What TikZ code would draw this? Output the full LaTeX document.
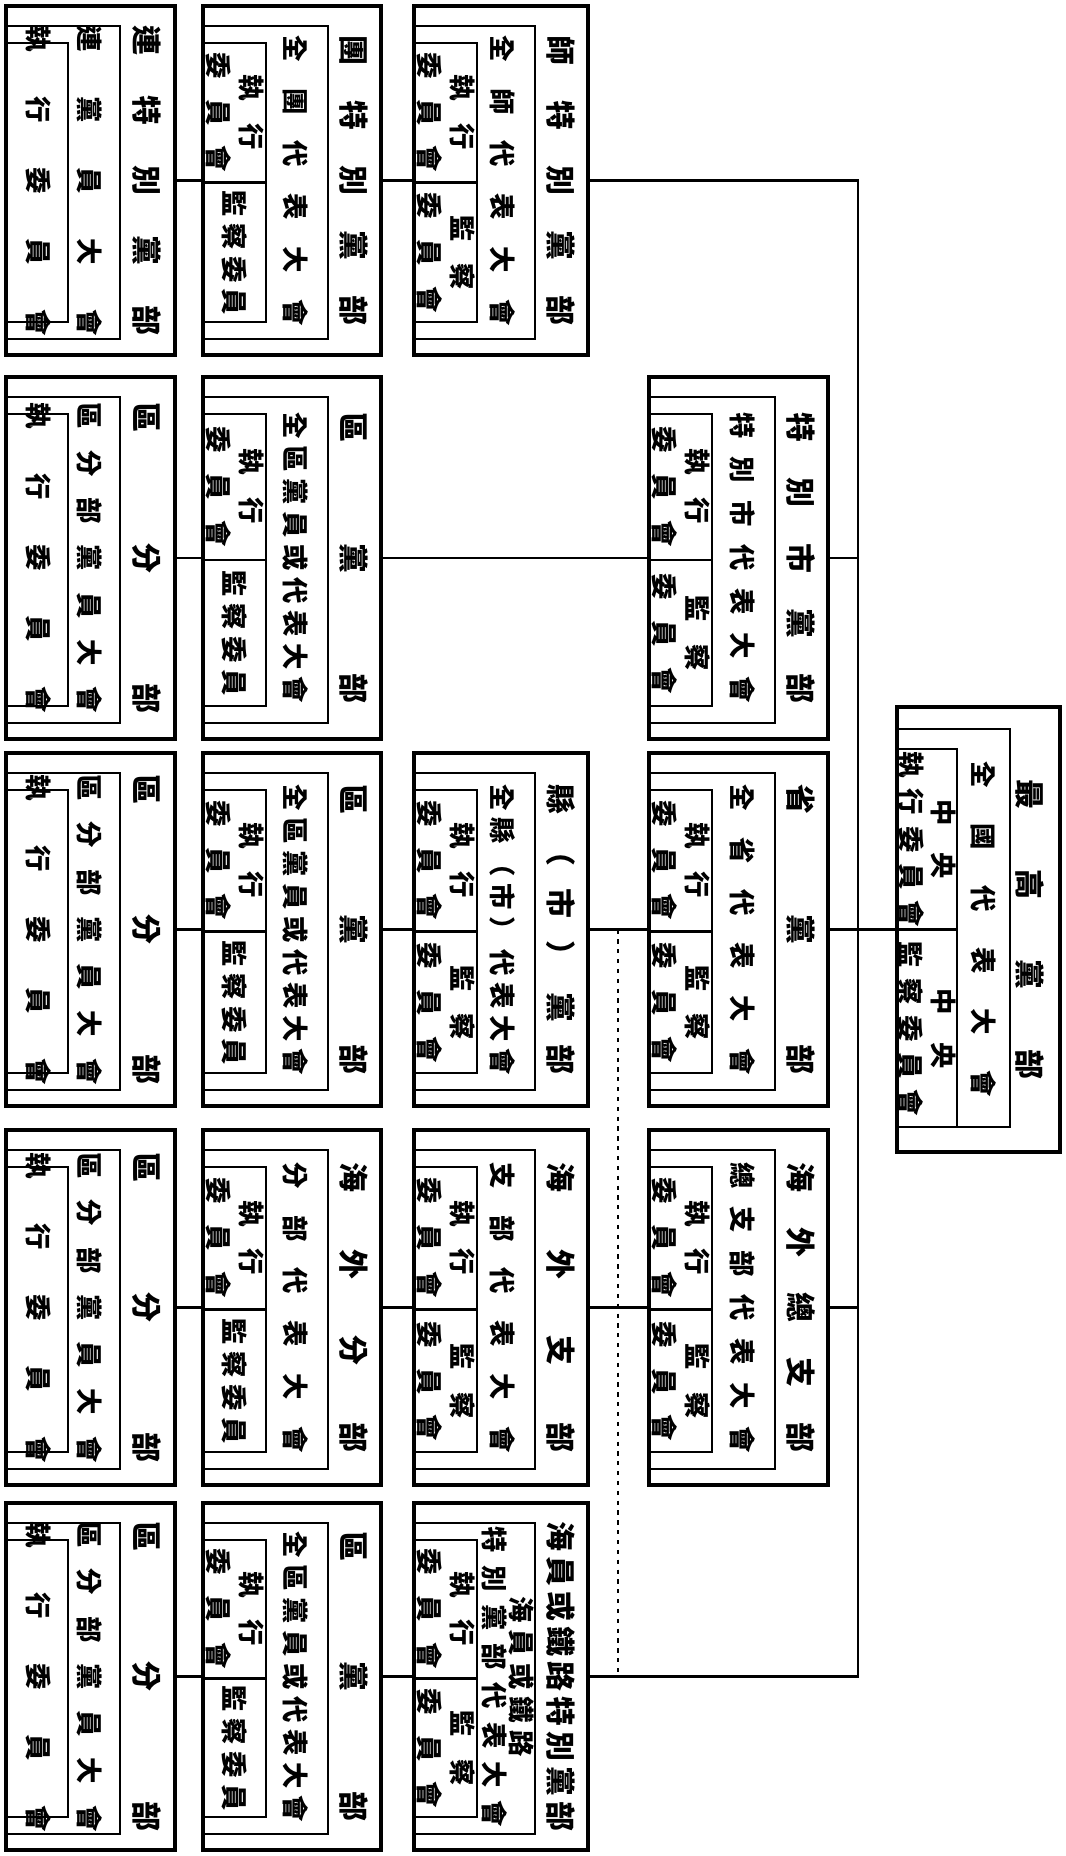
\documentclass[tikz,border=0pt]{standalone}
\usepackage{fontspec}
\setmainfont{Noto Sans CJK TC}
\usetikzlibrary{calc,fit}

\tikzset{
  orgframe/.style={draw, line width=1pt, inner sep=0pt, outer sep=0pt},
  inframe/.style={line width=0.8pt},
  rot/.style={rotate=-90, inner sep=0pt},
  link/.style={line width=0.8pt},
}

% spread characters over a given width
\newcommand{\spr}[2][2.9cm]{\makebox[#1][s]{\spaceskip=0pt plus 1fil\relax #2}}
\newcommand{\ttlfont}{\fontsize{8.5}{10}\selectfont\bfseries}
\newcommand{\asmfont}{\fontsize{7.5}{9}\selectfont\bfseries}
\newcommand{\celfont}{\fontsize{7.5}{9.2}\selectfont\bfseries}
\newcommand{\execcell}{\spr[0.75cm]{執 行}\\\spr[1.2cm]{委 員 會}}
\newcommand{\auditcell}{\spr[0.75cm]{監 察}\\\spr[1.2cm]{委 員 會}}
\newcommand{\auditshort}{\spr[1.25cm]{監 察 委 員}}
\newcommand{\asmoff}{-85}

% party office: name, x0, y0, x1, y1, title, assembly, executive, supervisory
\newcommand{\partybox}[9]{%
  \node[orgframe, fit={(#2,#3) (#4,#5)}] (#1) {};
  \draw[inframe] ($(#1.north west)+(0,20)$) rectangle ($(#1.south east)+(-53,-16)$);
  \draw[inframe] ($(#1.north west)+(0,37)$) rectangle ($(#1.south west)+(63,-33)$);
  \draw[inframe] ($(#1.west)+(0,2)$) -- ++(63,0);
  \node[rot, font=\ttlfont] (#1-t) at ($(#1.east)+(-27,0)$) {#6};
  \node[rot, font=\asmfont, align=center] (#1-a) at ($(#1.east)+(\asmoff,0)$) {#7};
  \node[rot, font=\celfont, align=center] (#1-e) at ($(#1.north west)!0.5!(#1.west)+(32,19)$) {#8};
  \node[rot, font=\celfont, align=center] (#1-s) at ($(#1.west)!0.5!(#1.south west)+(32,-15)$) {#9};
}

% lowest level: name, x0, y0, x1, y1, title, members meeting
\newcommand{\branchbox}[7]{%
  \node[orgframe, fit={(#2,#3) (#4,#5)}] (#1) {};
  \draw[inframe] ($(#1.north west)+(0,20)$) rectangle ($(#1.south east)+(-55,-16)$);
  \draw[inframe] ($(#1.north west)+(0,37)$) rectangle ($(#1.south west)+(62,-33)$);
  \node[rot, font=\ttlfont] (#1-t) at ($(#1.east)+(-28,0)$) {#6};
  \node[rot, font=\asmfont] (#1-a) at ($(#1.east)+(-85,0)$) {#7};
  \node[rot, font=\celfont] (#1-e) at ($(#1.west)+(32,0)$) {\spr[3.1cm]{執 行 委 員 會}};
}

\begin{document}
\begin{tikzpicture}[x=0.01cm, y=-0.01cm]
    \useasboundingbox (0,0) rectangle (1066,1856);

    % Highest level
    \node[orgframe, fit={(897,707) (1060,1152)}] (top) {};
    \draw[inframe] ($(top.north west)+(0,22)$) rectangle ($(top.south east)+(-50,-25)$);
    \draw[inframe] ($(top.north west)+(0,42)$) rectangle ($(top.south west)+(60,-25)$);
    \draw[inframe] (top.west) -- ++(60,0);
    \node[rot, font=\ttlfont] (top-t) at ($(top.east)+(-30,0)$) {\spr[3cm]{最 高 黨 部}};
    \node[rot, font=\asmfont] (top-a) at ($(top.east)+(-76,0)$) {\spr[3.35cm]{全 國 代 表 大 會}};
    \node[rot, font=\celfont, align=center] (top-e) at ($(top.north west)!0.5!(top.west)+(30,21)$) {\spr[0.8cm]{中 央}\\\spr[1.75cm]{執 行 委 員 會}};
    \node[rot, font=\celfont, align=center] (top-s) at ($(top.west)!0.5!(top.south west)+(30,-12)$) {\spr[0.8cm]{中 央}\\\spr[1.75cm]{監 察 委 員 會}};

    % Row 1: army
    \branchbox{L1}{6}{6}{175}{355}{\spr[3.1cm]{連 特 別 黨 部}}{\spr[3.1cm]{連 黨 員 大 會}}
    \partybox{M1}{203}{6}{381}{355}{\spr{團 特 別 黨 部}}{\spr{全 團 代 表 大 會}}{\execcell}{\auditshort}
    \partybox{C1}{414}{6}{588}{355}{\spr{師 特 別 黨 部}}{\spr{全 師 代 表 大 會}}{\execcell}{\auditcell}

    % Row 2: special city
    \branchbox{L2}{6}{377}{175}{739}{\spr[3.1cm]{區 分 部}}{\spr[3.1cm]{區 分 部 黨 員 大 會}}
    \partybox{M2}{203}{377}{381}{739}{\spr{區 黨 部}}{\spr{全 區 黨 員 或 代 表 大 會}}{\execcell}{\auditshort}
    \partybox{B2}{649}{377}{828}{739}{\spr{特 別 市 黨 部}}{\spr{特 別 市 代 表 大 會}}{\execcell}{\auditcell}

    % Row 3: province
    \branchbox{L3}{6}{753}{175}{1106}{\spr[3.1cm]{區 分 部}}{\spr[3.1cm]{區 分 部 黨 員 大 會}}
    \partybox{M3}{203}{753}{381}{1106}{\spr{區 黨 部}}{\spr{全 區 黨 員 或 代 表 大 會}}{\execcell}{\auditshort}
    \partybox{C3}{414}{753}{588}{1106}{\spr{縣 （ 市 ） 黨 部}}{\spr{全 縣 （ 市 ） 代 表 大 會}}{\execcell}{\auditcell}
    \partybox{B3}{649}{753}{828}{1106}{\spr{省 黨 部}}{\spr{全 省 代 表 大 會}}{\execcell}{\auditcell}

    % Row 4: overseas
    \branchbox{L4}{6}{1130}{175}{1485}{\spr[3.1cm]{區 分 部}}{\spr[3.1cm]{區 分 部 黨 員 大 會}}
    \partybox{M4}{203}{1130}{381}{1485}{\spr{海 外 分 部}}{\spr{分 部 代 表 大 會}}{\execcell}{\auditshort}
    \partybox{C4}{414}{1130}{588}{1485}{\spr{海 外 支 部}}{\spr{支 部 代 表 大 會}}{\execcell}{\auditcell}
    \partybox{B4}{649}{1130}{828}{1485}{\spr{海 外 總 支 部}}{\spr{總 支 部 代 表 大 會}}{\execcell}{\auditcell}

    % Row 5: seamen or railway
    \branchbox{L5}{6}{1503}{175}{1850}{\spr[3.1cm]{區 分 部}}{\spr[3.1cm]{區 分 部 黨 員 大 會}}
    \partybox{M5}{203}{1503}{381}{1850}{\spr{區 黨 部}}{\spr{全 區 黨 員 或 代 表 大 會}}{\execcell}{\auditshort}
    {\renewcommand{\asmoff}{-80}%
    \partybox{C5}{414}{1503}{588}{1850}{\spr[3.1cm]{海 員 或 鐵 路 特 別 黨 部}}{\spr[1.6cm]{海 員 或 鐵 路}\\[-1.2pt]\spr[3cm]{特 別 黨 部 代 表 大 會}}{\execcell}{\auditcell}}

    % Connectors
    \coordinate (bus) at (858,0);
    \coordinate (dots) at (618,0);
    \draw[link] (C1) -- (C1 -| bus) -- (C5 -| bus) -- (C5);
    \draw[link] (B2) -- (B2 -| bus);
    \draw[link] (B3) -- (top);
    \draw[link] (B4) -- (B4 -| bus);
    \draw[link] (L1) -- (M1);
    \draw[link] (M1) -- (C1);
    \draw[link] (L2) -- (M2);
    \draw[link] (M2) -- (B2);
    \draw[link] (L3) -- (M3);
    \draw[link] (M3) -- (C3);
    \draw[link] (C3) -- (B3);
    \draw[link] (L4) -- (M4);
    \draw[link] (M4) -- (C4);
    \draw[link] (C4) -- (B4);
    \draw[link] (L5) -- (M5);
    \draw[link] (M5) -- (C5);
    \draw[link, dash pattern=on 1.2pt off 1.6pt] (C3 -| dots) -- (C5 -| dots);
\end{tikzpicture}
\end{document}
